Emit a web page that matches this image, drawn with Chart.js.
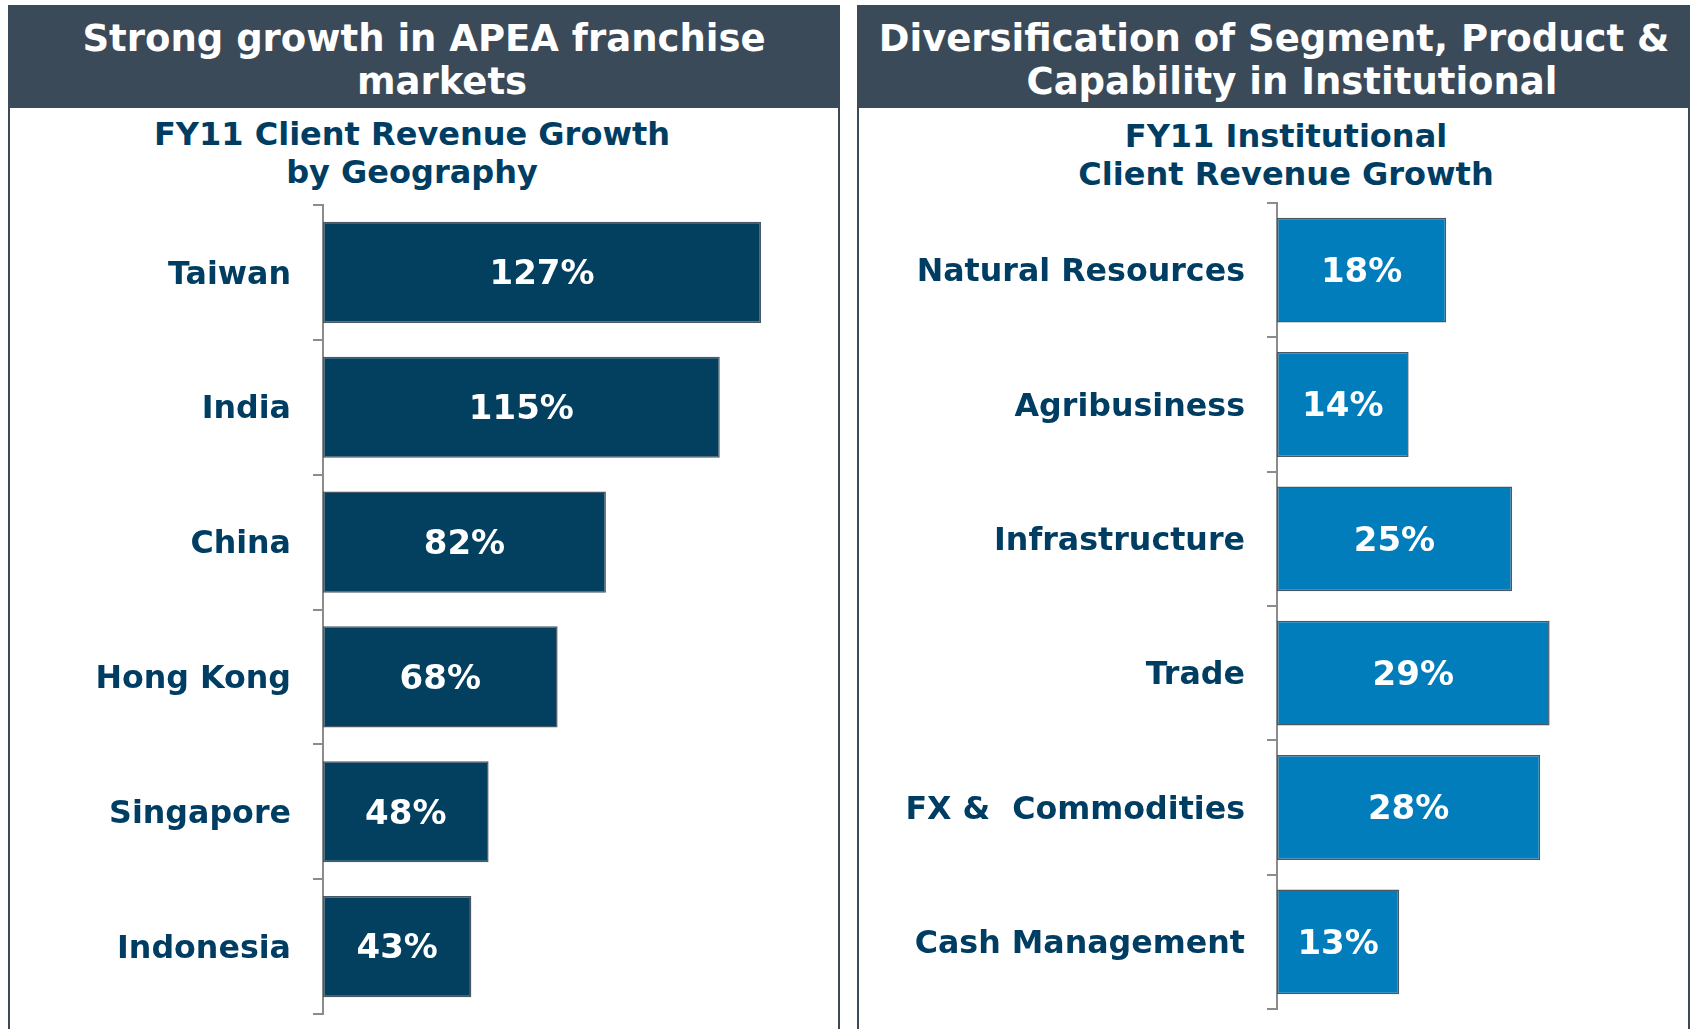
<!DOCTYPE html>
<html>
<head>
<meta charset="utf-8">
<script src="https://cdn.jsdelivr.net/npm/chart.js@4.4.1/dist/chart.umd.min.js"></script>
<style>
  html, body { margin: 0; padding: 0; background: #fff; }
  body { width: 1690px; height: 1029px; position: relative; overflow: hidden; font-family: "DejaVu Sans", Verdana, sans-serif; }
  .panel { position: absolute; top: 5px; height: 1100px; border: 2px solid #3a4a58; box-sizing: border-box; }
  .head { position: absolute; left: 0; right: 0; top: 0; height: 101px; background: #3a4a58; }
  .line { position: absolute; white-space: pre; font-weight: bold; transform: translateX(-50%); }
  .ttl { color: #fff; font-size: 37px; line-height: 43px; }
  .sub { color: #003d63; font-size: 32px; line-height: 38px; }
</style>
</head>
<body>
<div class="panel" style="left:8px;width:832px"><div class="head"></div></div>
<div class="panel" style="left:857px;width:833px"><div class="head"></div></div>

<div class="line ttl" style="left:424px;top:17px">Strong growth in APEA franchise</div>
<div class="line ttl" style="left:442px;top:60px">markets</div>
<div class="line sub" style="left:412px;top:115px">FY11 Client Revenue Growth</div>
<div class="line sub" style="left:412px;top:153px">by Geography</div>

<div class="line ttl" style="left:1274px;top:17px">Diversification of Segment, Product &amp;</div>
<div class="line ttl" style="left:1292px;top:60px">Capability in Institutional</div>
<div class="line sub" style="left:1286px;top:117px">FY11 Institutional</div>
<div class="line sub" style="left:1286px;top:155px">Client Revenue Growth</div>

<div style="position:absolute;left:10px;top:190px;width:828px;height:839px"><canvas id="geo-chart"></canvas></div>
<div style="position:absolute;left:860px;top:188px;width:828px;height:841px"><canvas id="inst-chart"></canvas></div>

<script>
// FY11 client revenue growth, %
const geoLabels = ["Taiwan", "India", "China", "Hong Kong", "Singapore", "Indonesia"];
const geoGrowth = [127, 115, 82, 68, 48, 43];

const instLabels = ["Natural Resources", "Agribusiness", "Infrastructure", "Trade", "FX &  Commodities", "Cash Management"];
const instGrowth = [18, 14, 25, 29, 28, 13];

const NAVY = "#003d63";

// white % labels centred in each bar
const barValues = {
  id: "barValues",
  afterDatasetsDraw(chart) {
    const ctx = chart.ctx;
    const meta = chart.getDatasetMeta(0);
    const vals = chart.data.datasets[0].data;
    ctx.save();
    ctx.fillStyle = "#fff";
    ctx.font = "bold 34px 'DejaVu Sans'";
    ctx.textAlign = "center";
    ctx.textBaseline = "middle";
    meta.data.forEach((bar, i) => {
      ctx.fillText(vals[i] + "%", (bar.x + bar.base) / 2, bar.y + 3);
    });
    ctx.restore();
  },
};

function makeChart(id, labels, values, opts) {
  return new Chart(document.getElementById(id), {
    type: "bar",
    data: {
      labels: labels,
      datasets: [{
        data: values,
        backgroundColor: opts.color,
        borderColor: "#4a5866",
        borderWidth: 1.5,
        borderSkipped: false,
        barPercentage: opts.barPct,
        categoryPercentage: 1,
      }],
    },
    options: {
      indexAxis: "y",
      responsive: true, maintainAspectRatio: false,
      animation: false,
      layout: { padding: opts.pad },
      plugins: { legend: { display: false }, tooltip: { enabled: false } },
      scales: {
        x: { display: false, min: 0, max: opts.max },
        y: {
          afterFit: (s) => { s.width = opts.axisW; s.paddingTop = 0; s.paddingBottom = 0; },
          border: { display: true, color: "#8c8c8c", width: 2 },
          grid: { display: true, offset: true, drawOnChartArea: false, drawTicks: true, tickLength: 10, color: "#8c8c8c", lineWidth: 2 },
          ticks: { color: NAVY, padding: 22, labelOffset: 3, font: { family: "DejaVu Sans", size: 31.7, weight: "bold" } },
        },
      },
    },
    plugins: [barValues],
  });
}

makeChart("geo-chart", geoLabels, geoGrowth, {
  color: "#03405f", barPct: 0.75, max: 140, axisW: 313,
  pad: { top: 15, bottom: 15, left: 0, right: 32 },
});
makeChart("inst-chart", instLabels, instGrowth, {
  color: "#027dbb", barPct: 0.78, max: 40, axisW: 417,
  pad: { top: 15, bottom: 20, left: 0, right: 35 },
});
</script>
</body>
</html>
